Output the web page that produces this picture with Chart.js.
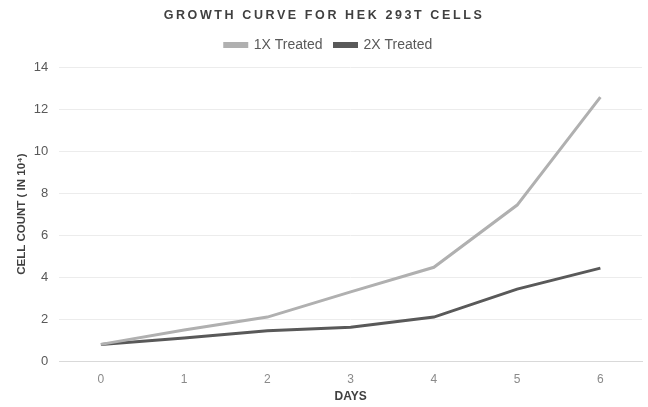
<!DOCTYPE html>
<html>
<head>
<meta charset="utf-8">
<script src="https://cdn.jsdelivr.net/npm/chart.js@4/dist/chart.umd.min.js"></script>
<style>
    body { margin: 0; background: #fff; }
    #wrap { position: relative; width: 648px; height: 407px; }
    #title {
        position: absolute; top: 8px; left: 0; width: 100%;
        text-align: center; font: bold 12.5px "Liberation Sans", Arial, sans-serif;
        letter-spacing: 2.6px; color: #404040;
    }
</style>
</head>
<body>
<div id="wrap">
    <div id="title">GROWTH CURVE FOR HEK 293T CELLS</div>
    <canvas id="growthChart" width="648" height="407"></canvas>
</div>
<script>
const days = ['0', '1', '2', '3', '4', '5', '6'];
const treated1x = [0.8, 1.48, 2.1, 3.3, 4.47, 7.43, 12.57];
const treated2x = [0.8, 1.1, 1.45, 1.62, 2.1, 3.43, 4.43];

document.addEventListener('DOMContentLoaded', () => {
    const ctx = document.getElementById('growthChart').getContext('2d');
    const font = '"Liberation Sans", Arial, sans-serif';

    // a little extra room under the legend
    const legendGap = {
        id: 'legendGap',
        beforeInit(chart) {
            const fit = chart.legend.fit;
            chart.legend.fit = function () {
                fit.bind(chart.legend)();
                this.height += 5;
            };
        }
    };

    new Chart(ctx, {
        type: 'line',
        data: {
            labels: days,
            datasets: [
                {
                    label: '1X Treated',
                    data: treated1x,
                    borderColor: '#b0b0b0',
                    backgroundColor: '#b0b0b0',
                    borderWidth: 3,
                    pointRadius: 0,
                    tension: 0
                },
                {
                    label: '2X Treated',
                    data: treated2x,
                    borderColor: '#595959',
                    backgroundColor: '#595959',
                    borderWidth: 3,
                    pointRadius: 0,
                    tension: 0
                }
            ]
        },
        options: {
            responsive: false,
            animation: false,
            layout: { padding: { top: 26, right: 6, left: 15, bottom: 0 } },
            plugins: {
                legend: {
                    position: 'top',
                    labels: {
                        boxWidth: 22,
                        boxHeight: 3,
                        padding: 12,
                        color: '#595959',
                        font: { family: font, size: 14 }
                    }
                },
                tooltip: { enabled: false }
            },
            scales: {
                x: {
                    offset: true,
                    grid: { display: false },
                    border: { color: '#d9d9d9' },
                    ticks: { color: '#8a8a8a', font: { family: font, size: 12 }, padding: 3 },
                    title: {
                        display: true, text: 'DAYS', color: '#404040',
                        font: { family: font, size: 12, weight: 'bold' }, padding: { top: 0, bottom: 3 }
                    }
                },
                y: {
                    min: 0,
                    max: 14,
                    ticks: { stepSize: 2, color: '#595959', font: { family: font, size: 13 }, padding: 11 },
                    grid: { color: '#ececec', drawTicks: false },
                    border: { display: false },
                    title: {
                        display: true, text: 'CELL COUNT ( IN 10\u2074)', color: '#404040',
                        font: { family: font, size: 11.5, weight: 'bold' }, padding: { top: 0, bottom: -6 }
                    }
                }
            }
        },
        plugins: [legendGap]
    });
});
</script>
</body>
</html>
